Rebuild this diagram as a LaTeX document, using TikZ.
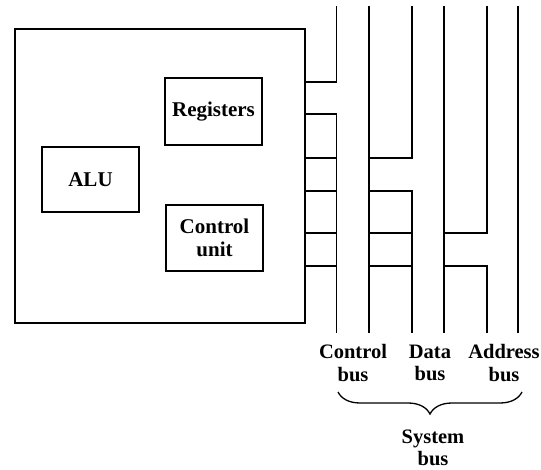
\documentclass[tikz,border=0pt]{standalone}
\usepackage{fontspec}
\setmainfont{Liberation Serif}
\usetikzlibrary{decorations.pathreplacing}
\begin{document}
\begin{tikzpicture}[x=1pt,y=-1pt,
  wire/.style={line width=1.7pt,line join=miter},
  box/.style={draw,line width=1.4pt,inner sep=0pt,font=\fontsize{21}{23}\selectfont\bfseries,align=center},
  lbl/.style={font=\fontsize{20.5}{22.5}\selectfont\bfseries,align=center,inner sep=0pt}]
\useasboundingbox (0,0) rectangle (541,470);
% CPU
\node[draw,line width=1.4pt,minimum width=290pt,minimum height=294pt,inner sep=0pt] (cpu) at (160,176) {};
\node[box,minimum width=97pt,minimum height=67pt] (reg) at (213.5,111.5) {Registers};
\node[box,minimum width=97pt,minimum height=65pt] (alu) at (90.5,179.5) {ALU};
\node[box,minimum width=97pt,minimum height=66pt] (cu) at (214.5,238) {Control\\unit};
% bus line ends
\foreach \n/\x in {c1/336.5,c2/369,d1/412,d2/444,a1/487,a2/518}{
  \coordinate (\n t) at (\x,6);
  \coordinate (\n b) at (\x,333);
}
% control bus
\draw[wire] (c1t) |- (cpu.east |- 0,82);
\draw[wire] (cpu.east |- 0,114) -| (c1b);
\draw[wire] (c2t) -- (c2b);
% data bus
\draw[wire] (d1t) |- (c2t |- 0,158);
\draw[wire] (cpu.east |- 0,158) -- (c1t |- 0,158);
\draw[wire] (cpu.east |- 0,191) -- (c1t |- 0,191);
\draw[wire] (c2t |- 0,191) -| (d1b);
\draw[wire] (d2t) -- (d2b);
% address bus
\draw[wire] (a1t) |- (d2t |- 0,233);
\draw[wire] (c2t |- 0,233) -- (d1t |- 0,233);
\draw[wire] (cpu.east |- 0,233) -- (c1t |- 0,233);
\draw[wire] (cpu.east |- 0,266) -- (c1t |- 0,266);
\draw[wire] (c2t |- 0,266) -- (d1t |- 0,266);
\draw[wire] (d2t |- 0,266) -| (a1b);
\draw[wire] (a2t) -- (a2b);
% labels
\node[lbl] (lc) at (353,363) {Control\\bus};
\node[lbl] (ld) at (430,363) {Data\\bus};
\node[lbl] (la) at (504,363) {Address\\bus};
\coordinate (bl) at (338,392);
\coordinate (br) at (522,392);
\draw[line width=1.3pt,decorate,decoration={brace,mirror,amplitude=22pt}] (bl) -- (br);
\node[lbl] (sys) at (433,448) {System\\bus};
\end{tikzpicture}
\end{document}
